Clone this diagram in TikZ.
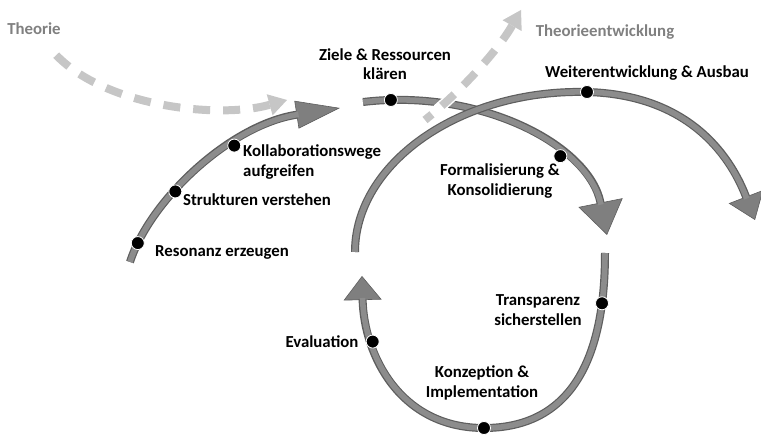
\documentclass[tikz,border=0pt]{standalone}
\usepackage{fontspec}
\setmainfont{Carlito}
\usetikzlibrary{arrows.meta}
\definecolor{band-fill}{HTML}{8C8C8C}
\definecolor{band-edge}{HTML}{5E5E5E}
\definecolor{tip-fill}{HTML}{7F7F7F}
\definecolor{theory-gray}{HTML}{C6C6C6}
\definecolor{label-gray}{HTML}{808080}

\begin{document}
\begin{tikzpicture}[x=1pt, y=-1pt,
      every node/.style={font=\bfseries\fontsize{16.8}{19.5}\selectfont, inner sep=0pt},
      band/.style={draw=band-edge, line width=8pt,
        postaction={draw=band-fill, line width=5.6pt, -, shorten >=#1}},
      band/.default=0pt,
      theory-line/.style={draw=theory-gray, line width=8pt,
        dash pattern=on 17pt off 13pt,
        preaction={draw=white, line width=11pt, solid, -},
        {Triangle[length=18pt, width=22pt, fill=theory-gray, line width=0pt]}-},
      stage-dot/.style={circle, fill=black, draw=white, line width=0.8pt,
        minimum size=13pt},
      stage-label/.style={align=center}]
    \useasboundingbox (0,0) rectangle (761,435);
    \coordinate (a-start) at (130,262);
    \coordinate (a-end) at (340,108);
    \coordinate (b-start) at (363,102);
    \coordinate (b-end) at (607,235);
    \coordinate (c-start) at (355,252);
    \coordinate (c-top) at (587,92);
    \coordinate (c-end) at (755,220);
    \coordinate (d-start) at (605,253);
    \coordinate (d-bottom) at (484,428);
    \coordinate (d-end) at (362,276);
    \coordinate (theory-in) at (50,48);
    \coordinate (theory-join) at (287,100);
    \coordinate (theory-leave) at (425,120);
    \coordinate (theory-out) at (521,10);
    % first arc up to the goals
    \draw[band=42pt, -{Triangle[length=44pt, width=28pt, fill=tip-fill, line width=0.6pt]}]
      (a-start) .. controls (150,200) and (230,125) .. (a-end)
      node[stage-dot, pos=0.1] (dot-resonanz) {}
      node[stage-dot, pos=0.37] (dot-strukturen) {}
      node[stage-dot, pos=0.64] (dot-kollab) {};
    \draw[band=31pt, -{Triangle[length=33pt, width=45pt, fill=tip-fill, line width=0.6pt]}]
      (b-start) .. controls (480,88) and (589,145) .. (b-end)
      node[stage-dot, pos=0.08] (dot-ziele) {}
      node[stage-dot, pos=0.66] (dot-formal) {};
    % theory in and out (drawn from the tip back)
    \draw[theory-line] (theory-join) .. controls (215,120) and (95,105) .. (theory-in);
    \draw[theory-line] (theory-out) .. controls (500,47) and (465,88) .. (theory-leave);
    % big arc and lower loop
    \draw[band=23pt, -{Triangle[length=25pt, width=37pt, fill=tip-fill, line width=0.6pt]}]
      (c-start) .. controls (355,164) and (459,89) .. (c-top)
      node[stage-dot] (dot-weiter) {}
      .. controls (695,95) and (733,163) .. (c-end);
    \draw[band=22pt, -{Triangle[length=24pt, width=38pt, fill=tip-fill, line width=0.6pt]}]
      (d-start) .. controls (605,375) and (560,428) .. (d-bottom)
      node[stage-dot, pos=0.15] (dot-transparenz) {}
      node[stage-dot] (dot-konzeption) {}
      .. controls (400,428) and (364,355) .. (d-end)
      node[stage-dot, pos=0.71] (dot-evaluation) {};
    \node[text=label-gray] (theory-label) at (34,29) {Theorie};
    \node[text=label-gray] (theory-dev-label) at (605,32) {Theorieentwicklung};
    \node[stage-label] (ziele-label) at (385,64) {Ziele \& Ressourcen\\klären};
    \node (weiter-label) at (647,73) {Weiterentwicklung \& Ausbau};
    \node[anchor=west, align=left] (kollab-label) at (243,162) {Kollaborationswege\\aufgreifen};
    \node[anchor=west] (strukturen-label) at (183,200) {Strukturen verstehen};
    \node[anchor=west] (resonanz-label) at (155,252) {Resonanz erzeugen};
    \node[stage-label] (formal-label) at (500,181) {Formalisierung \&\\Konsolidierung};
    \node[stage-label] (transparenz-label) at (538,310) {Transparenz\\sicherstellen};
    \node (evaluation-label) at (322,342) {Evaluation};
    \node[stage-label] (konzeption-label) at (482,383) {Konzeption \&\\Implementation};
  \end{tikzpicture}
\end{document}
